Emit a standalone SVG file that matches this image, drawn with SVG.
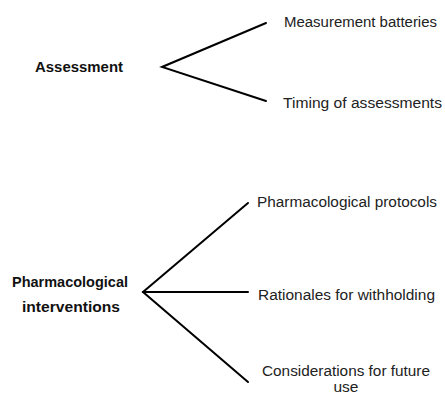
<svg xmlns="http://www.w3.org/2000/svg" width="445" height="395" viewBox="0 0 445 395">
<style>
.hd{font-family:"Liberation Sans",Arial,sans-serif;font-size:15px;font-weight:bold;fill:#111;text-anchor:middle}
.lb{font-family:"Liberation Sans",Arial,sans-serif;font-size:15.5px;fill:#222}
.sm{font-size:14px}
.ln{stroke:#000;stroke-width:2;fill:none;stroke-linecap:round;stroke-linejoin:miter}
</style>
<rect width="445" height="395" fill="#fff"/>
<g id="connectors">
<polyline class="ln" points="266,23 162,67 266,101"/>
<polyline class="ln" points="248,203 143,292 248,382"/>
<line class="ln" x1="143" y1="292" x2="248" y2="292"/>
</g>
<g id="assessment"><text class="hd" x="79" y="72" textLength="88" lengthAdjust="spacingAndGlyphs">Assessment</text></g>
<g id="measurement"><text class="lb" x="284" y="27" textLength="153" lengthAdjust="spacingAndGlyphs">Measurement batteries</text></g>
<g id="timing"><text class="lb" x="283" y="108" textLength="159" lengthAdjust="spacingAndGlyphs">Timing of assessments</text></g>
<g id="pharm"><text class="hd" x="70" y="287" textLength="116" lengthAdjust="spacingAndGlyphs">Pharmacological</text><text class="hd" x="71" y="312" textLength="98" lengthAdjust="spacingAndGlyphs">interventions</text></g>
<g id="protocols"><text class="lb" x="257" y="207" textLength="180" lengthAdjust="spacingAndGlyphs">Pharmacological protocols</text></g>
<g id="rationales"><text class="lb" x="258" y="300" textLength="177" lengthAdjust="spacingAndGlyphs">Rationales for withholding</text></g>
<g id="considerations"><text class="lb sm" x="346" y="376" text-anchor="middle" textLength="168" lengthAdjust="spacingAndGlyphs">Considerations for future</text><text class="lb sm" x="346" y="392" text-anchor="middle" textLength="25" lengthAdjust="spacingAndGlyphs">use</text></g>
</svg>
